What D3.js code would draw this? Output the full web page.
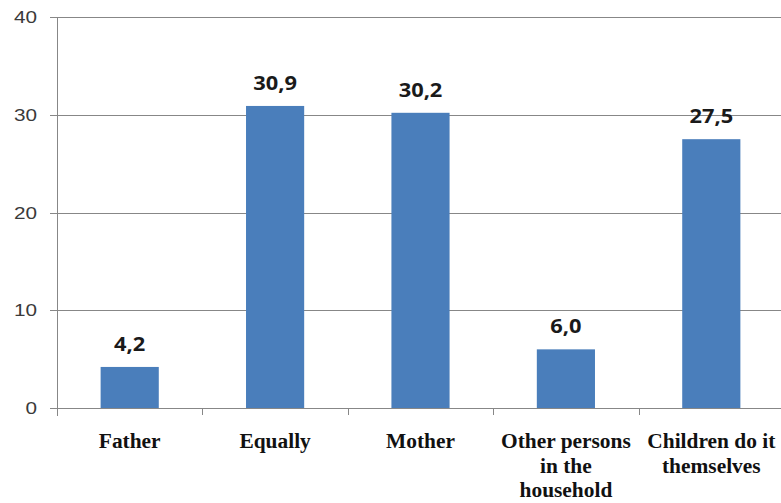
<!DOCTYPE html>
<html>
<head>
<meta charset="utf-8">
<script src="https://cdn.jsdelivr.net/npm/d3@7/dist/d3.min.js"></script>
<style>
  html, body { margin: 0; padding: 0; background: #ffffff; }
  svg { display: block; }
</style>
</head>
<body>
<svg id="chart" width="781" height="503"></svg>
<script>
// Who does it in the household (percent)
const categories = ["Father", "Equally", "Mother", "Other persons in the household", "Children do it themselves"];
const categoryLines = [["Father"], ["Equally"], ["Mother"], ["Other persons", "in the", "household"], ["Children do it", "themselves"]];
const values = [4.2, 30.9, 30.2, 6.0, 27.5];
const yTicks = [0, 10, 20, 30, 40];

const svg = d3.select("#chart");
const plotLeft = 57, plotRight = 784, plotTop = 17, plotBottom = 408;

const x = d3.scaleBand()
  .domain(categories)
  .range([plotLeft, plotRight])
  .paddingInner(0.6)
  .paddingOuter(0.3);

const y = d3.scaleLinear()
  .domain([0, 40])
  .range([plotBottom, plotTop]);

const gridColor = "#878787";

// horizontal gridlines
svg.append("g")
  .selectAll("line")
  .data(yTicks)
  .join("line")
  .attr("x1", plotLeft - 7)
  .attr("x2", plotRight)
  .attr("y1", d => Math.round(y(d)) + 0.5)
  .attr("y2", d => Math.round(y(d)) + 0.5)
  .attr("stroke", gridColor)
  .attr("stroke-width", 1);

// vertical axis line
svg.append("line")
  .attr("x1", plotLeft + 0.5).attr("x2", plotLeft + 0.5)
  .attr("y1", y(40)).attr("y2", y(0) + 8)
  .attr("stroke", gridColor);

// category boundary ticks
const step = x.step();
const boundaries = d3.range(categories.length + 1).map(i => plotLeft + i * step);
svg.append("g")
  .selectAll("line")
  .data(boundaries.slice(1))
  .join("line")
  .attr("x1", d => Math.round(d) + 0.5)
  .attr("x2", d => Math.round(d) + 0.5)
  .attr("y1", y(0))
  .attr("y2", y(0) + 7)
  .attr("stroke", gridColor);

// y tick labels
svg.append("g")
  .selectAll("text")
  .data(yTicks)
  .join("text")
  .attr("transform", d => `translate(37,${y(d) + 6}) scale(1.22,1)`)
  .attr("text-anchor", "end")
  .attr("font-family", "Liberation Sans, Arial, sans-serif")
  .attr("font-size", 17)
  .attr("fill", "#3a3a3a")
  .text(d => d);

// bars
svg.append("g")
  .selectAll("rect")
  .data(values)
  .join("rect")
  .attr("x", (d, i) => x(categories[i]))
  .attr("width", x.bandwidth())
  .attr("y", d => y(d))
  .attr("height", d => y(0) - y(d))
  .attr("fill", "#4A7EBB");

// value labels
const fmt = d3.format(".1f");
svg.append("g")
  .selectAll("text")
  .data(values)
  .join("text")
  .attr("transform", (d, i) => `translate(${x(categories[i]) + x.bandwidth() / 2},${y(d) - 16}) scale(1.15,1)`)
  .attr("text-anchor", "middle")
  .attr("font-family", "Open Sans, sans-serif")
  .attr("font-weight", "bold")
  .attr("font-size", 19)
  .attr("fill", "#1a1a1a")
  .text(d => fmt(d).replace(".", ","));

// category labels
const catG = svg.append("g")
  .selectAll("g")
  .data(categoryLines)
  .join("g")
  .attr("transform", (d, i) => `translate(${x(categories[i]) + x.bandwidth() / 2},0)`);

catG.selectAll("text")
  .data(d => d)
  .join("text")
  .attr("transform", (d, j) => `translate(0,${448 + j * 24.5}) scale(1.07,1)`)
  .attr("text-anchor", "middle")
  .attr("font-family", "Liberation Serif, Times New Roman, serif")
  .attr("font-weight", "bold")
  .attr("font-size", 20)
  .attr("fill", "#111")
  .text(d => d);
</script>
</body>
</html>
